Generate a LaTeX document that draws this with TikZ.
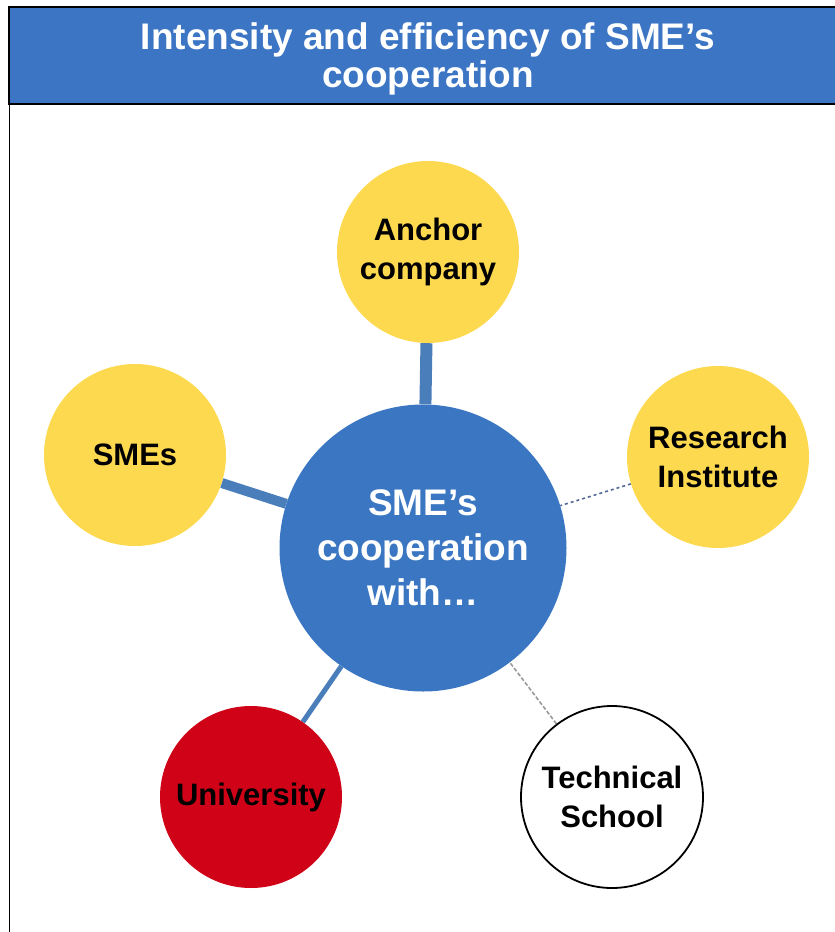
\documentclass[tikz,border=0pt]{standalone}
\usepackage{fontspec}
\setmainfont{Liberation Sans}
\usepackage{tikz}
\usetikzlibrary{calc, positioning, shapes, backgrounds}
\definecolor{headblue}{RGB}{59,117,196}
\definecolor{hubblue}{RGB}{58,118,194}
\definecolor{linkblue}{RGB}{74,126,187}
\definecolor{dashblue}{RGB}{84,104,150}
\definecolor{partyellow}{RGB}{253,217,80}
\definecolor{partred}{RGB}{208,2,24}
\tikzstyle{party}=[circle,minimum size=182pt,inner sep=0pt,align=center,font=\fontsize{31}{39}\selectfont\bfseries]
\tikzstyle{yellow party}=[party, fill=partyellow]
\tikzstyle{red party}=[party, fill=partred]
\tikzstyle{white party}=[party, fill=white, draw=black, line width=1.8pt]
\tikzstyle{hub}=[circle,fill=hubblue,text=white,minimum size=287pt,inner sep=0pt,align=center,font=\fontsize{37}{45}\selectfont\bfseries]
\tikzstyle{link}=[draw=linkblue]

\begin{document}
\begin{tikzpicture}[x=1pt,y=-1pt]
		\useasboundingbox (0,0) rectangle (835,932);
		\clip (0,0) rectangle (835,932);
		% Draw the header
		\draw[fill=headblue, line width=1.5pt] (9,7) rectangle (845,104);
		\draw[line width=1pt] (9,104) -- (9,940);
		\node[text=white, align=center, font=\fontsize{37}{38}\selectfont\bfseries] (title) at (428,59) {Intensity and efficiency of SME’s\\cooperation};

		% Draw the hub and the partners
		\node[hub] (hub) at (423,548) {SME’s\\cooperation\\with…};
		\node[yellow party] (anchor) at (428,252) {Anchor\\company};
		\node[yellow party] (smes) at (135,455) {SMEs};
		\node[yellow party] (research) at (718,457) {Research\\Institute};
		\node[red party] (univ) at (251,797) {University};
		\node[white party] (tech) at (612,797) {Technical\\School};

		% Connect every partner with the hub
		\begin{scope}[on background layer]
		\path[link, line width=12pt] (anchor) -- (hub);
		\path[link, line width=10pt] (smes) -- (hub);
		\path[link, line width=5pt] (univ) -- (hub);
		\path[draw=dashblue, line width=1.6pt, dashed] (research) -- (hub);
		\path[draw=black!40, line width=1.6pt, dash pattern=on 4pt off 2pt] (tech) -- (hub);
		\end{scope}
	\end{tikzpicture}
\end{document}
